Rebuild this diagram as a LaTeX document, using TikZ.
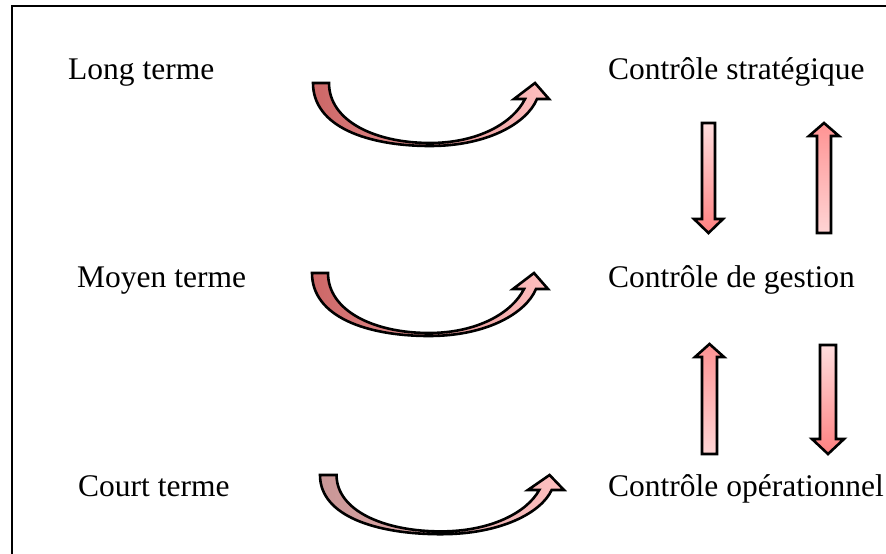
\documentclass[tikz,border=0pt]{standalone}
\usepackage{fontspec}
\setmainfont{Liberation Serif}
\definecolor{taildark}{RGB}{204,102,102}
\definecolor{tailgray}{RGB}{200,150,150}
\definecolor{headlight}{RGB}{255,192,192}
\definecolor{vlight}{RGB}{255,222,222}
\definecolor{vdark}{RGB}{255,128,128}
\tikzset{
  lbl/.style={anchor=base west,inner sep=0pt,font=\fontsize{31.5}{36}\selectfont},
  outl/.style={draw=black,line width=2.6pt,line join=miter},
}
\newcommand\crvarrow[5]{%
  \shadedraw[outl,shift={(#1,#2)},xscale=#3,yscale=#4,left color=#5,right color=headlight]
  (0,0) .. controls (0,44) and (55,63) .. (117,63)
  .. controls (175,63) and (214,40) .. (224,16)
  -- (236,16) -- (222,0) -- (201,16) -- (212,16)
  .. controls (200,40) and (165,60) .. (117,60)
  .. controls (62,60) and (16,38) .. (16,0) -- cycle;}
\begin{document}
\begin{tikzpicture}[x=1pt,y=-1pt]
\useasboundingbox (0,0) rectangle (886,554);
\draw[line width=2.6pt] (12,554) -- (12,6) -- (886,6);
% labels
\node[lbl] (lt) at (68,79) {Long terme};
\node[lbl] (mt) at (77,287) {Moyen terme};
\node[lbl] (ct) at (78,496) {Court terme};
\node[lbl] (cs) at (608,79) {Contrôle stratégique};
\node[lbl] (cg) at (608,287) {Contrôle de gestion};
\node[lbl] (co) at (608,496) {Contrôle opérationnel};
% curved arrows
\crvarrow{313}{83}{1}{1}{taildark}
\crvarrow{312}{273}{1}{1}{taildark}
\crvarrow{320}{475}{1.034}{0.94}{tailgray}
% vertical arrows
\shadedraw[outl,top color=vlight,bottom color=vdark]
  (702,123) -- (715,123) -- (715,219) -- (723,219) -- (708.5,233) -- (694,219) -- (702,219) -- cycle;
\shadedraw[outl,top color=vdark!85,bottom color=vlight!90!vdark]
  (817,233) -- (831,233) -- (831,136) -- (839,136) -- (824,123) -- (809,136) -- (817,136) -- cycle;
\shadedraw[outl,top color=vdark!85,bottom color=vlight!90!vdark]
  (702,454) -- (717,454) -- (717,357) -- (724,357) -- (709.5,344) -- (695,357) -- (702,357) -- cycle;
\shadedraw[outl,top color=vlight,bottom color=vdark]
  (820,345) -- (836,345) -- (836,439) -- (844,439) -- (828,454) -- (812,439) -- (820,439) -- cycle;
\end{tikzpicture}
\end{document}
